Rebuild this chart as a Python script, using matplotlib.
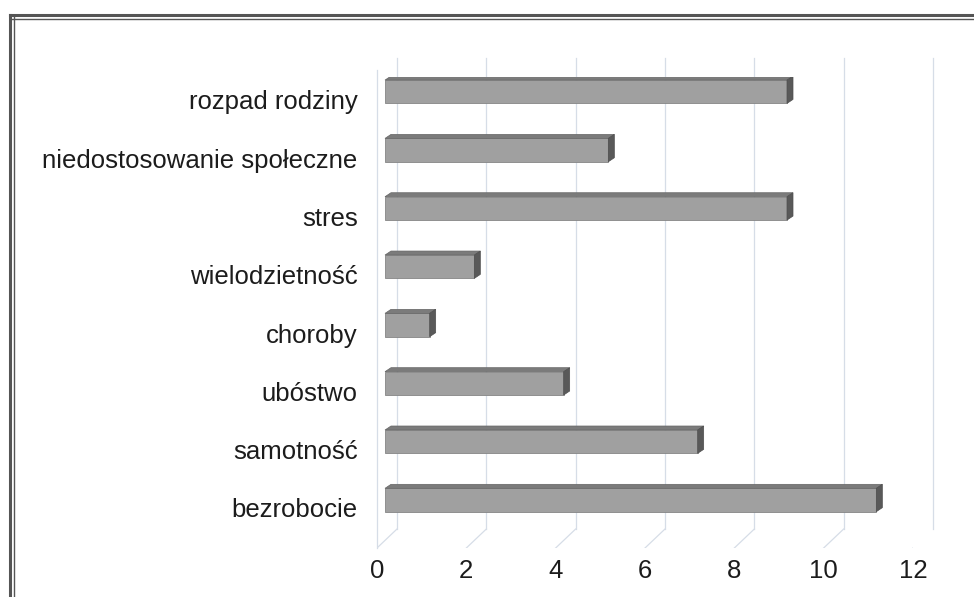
import matplotlib
matplotlib.use('Agg')
import matplotlib.pyplot as plt
from matplotlib.lines import Line2D
from matplotlib.patches import Polygon
from matplotlib.transforms import ScaledTranslation, IdentityTransform

# data, bottom to top
categories = ['bezrobocie', 'samotność', 'ubóstwo', 'choroby',
              'wielodzietność', 'stres', 'niedostosowanie społeczne',
              'rozpad rodziny']
values = [11, 7, 4, 1, 2, 9, 5, 9]
x_ticks = [0, 2, 4, 6, 8, 10, 12]

plt.rcParams['font.family'] = ['Liberation Sans', 'DejaVu Sans']

W, H = 974, 597
fig = plt.figure(figsize=(W / 100, H / 100), dpi=100)
ax = fig.add_axes([377 / W, (H - 548) / H, 536 / W, 471 / H])


def shift(dx, dy):
    # pixel offset on top of data coords (fake 3d depth)
    return ax.transData + ScaledTranslation(dx / 100, dy / 100, fig.dpi_scale_trans)


ypos = list(range(len(categories)))
bar_h = 0.40
ax.set_xlim(0, 12)
ax.set_ylim(-0.686, 7.39)
ylo, yhi = ax.get_ylim()

# back wall grid + floor lines
grid_col = '#d6dde7'
back = shift(20, 19)
for v in x_ticks:
    ax.plot([v, v], [ylo, yhi], color=grid_col, lw=0.9, transform=back, clip_on=False)
    p0 = back.transform((v, ylo))
    p1 = ax.transData.transform((v, ylo))
    ax.add_artist(Line2D([p0[0], p1[0]], [p0[1], p1[1]], color=grid_col, lw=0.9,
                         transform=IdentityTransform()))
ax.plot([0, 0], [ylo, yhi + 0.12], color=grid_col, lw=0.9, clip_on=False)

# front faces of the bars
front = shift(8, 8)
ax.barh(ypos, values, height=bar_h, color='#a0a0a0', edgecolor='#858585', lw=0.6,
        transform=front, clip_on=False, zorder=3)

# top and right faces for the 3d look
rear = shift(14, 12)
for y, v in zip(ypos, values):
    yb, yt = y - bar_h / 2, y + bar_h / 2
    fl, ft = front.transform((0, yt)), front.transform((v, yt))
    fb = front.transform((v, yb))
    rl, rt = rear.transform((0, yt)), rear.transform((v, yt))
    rb = rear.transform((v, yb))
    ax.add_artist(Polygon([fl, ft, rt, rl], closed=True, facecolor='#7b7b7b',
                          edgecolor='#666666', lw=0.5, transform=IdentityTransform(), zorder=3))
    ax.add_artist(Polygon([fb, ft, rt, rb], closed=True, facecolor='#595959',
                          edgecolor='#4f4f4f', lw=0.5, transform=IdentityTransform(), zorder=3))

ax.set_xlim(0, 12)
ax.set_ylim(ylo, yhi)
ax.set_xticks(x_ticks)
ax.set_yticks(ypos)
ax.set_yticklabels(categories)
ax.tick_params(axis='both', length=0, labelsize=18.5, colors='#1c1c1c')
ax.tick_params(axis='x', pad=8)
ax.tick_params(axis='y', pad=14)
for s in ax.spines.values():
    s.set_visible(False)
ax.set_facecolor('none')

# scanned chart frame (double line)
for x, lw in [(10, 2.2), (14, 1.0)]:
    fig.add_artist(Line2D([x / W, x / W], [0, 1 - 15 / H], transform=fig.transFigure,
                          color='#555555', lw=lw))
for y, lw in [(15, 2.2), (19, 1.0)]:
    fig.add_artist(Line2D([10 / W, 1], [1 - y / H, 1 - y / H], transform=fig.transFigure,
                          color='#555555', lw=lw))

fig.savefig('out.png', dpi=100)
